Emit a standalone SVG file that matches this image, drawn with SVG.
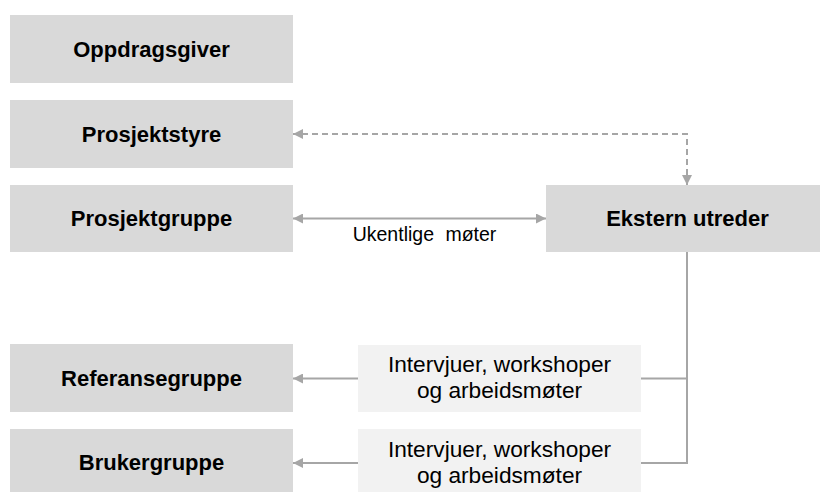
<svg xmlns="http://www.w3.org/2000/svg" width="820" height="492" viewBox="0 0 820 492">
  <style>
    .box { fill: #d9d9d9; }
    .lbl { fill: #f2f2f2; }
    .name { font-family: "Liberation Sans", Arial, sans-serif; font-size: 22px; font-weight: bold; fill: #000; text-anchor: middle; }
    .note { font-family: "Liberation Sans", Arial, sans-serif; font-size: 22.7px; fill: #000; text-anchor: middle; }
    .small { font-family: "Liberation Sans", Arial, sans-serif; font-size: 19.5px; fill: #000; text-anchor: middle; word-spacing: 6px; }
    .wire { fill: none; stroke: #a6a6a6; stroke-width: 2; }
    .dash { stroke-dasharray: 6 4; }
  </style>
  <defs>
    <marker id="arr" viewBox="0 0 10 10" refX="10" refY="5" markerWidth="10" markerHeight="10" markerUnits="userSpaceOnUse" orient="auto-start-reverse">
      <path d="M0,0 L10,5 L0,10 z" fill="#a6a6a6"/>
    </marker>
  </defs>

  <rect width="820" height="492" fill="#ffffff"/>

  <g id="oppdragsgiver">
    <rect class="box" x="10" y="15" width="283" height="68"/>
    <text class="name" x="151.5" y="57">Oppdragsgiver</text>
  </g>
  <g id="prosjektstyre">
    <rect class="box" x="10" y="100" width="283" height="68"/>
    <text class="name" x="151.5" y="142">Prosjektstyre</text>
  </g>
  <g id="prosjektgruppe">
    <rect class="box" x="10" y="185" width="283" height="67"/>
    <text class="name" x="151.5" y="226">Prosjektgruppe</text>
  </g>
  <g id="referansegruppe">
    <rect class="box" x="10" y="344" width="283" height="68"/>
    <text class="name" x="151.5" y="386">Referansegruppe</text>
  </g>
  <g id="brukergruppe">
    <rect class="box" x="10" y="429" width="283" height="68"/>
    <text class="name" x="151.5" y="470">Brukergruppe</text>
  </g>
  <g id="ekstern-utreder">
    <rect class="box" x="546" y="185" width="283" height="67"/>
    <text class="name" x="687.5" y="226">Ekstern utreder</text>
  </g>

  <g id="connectors">
    <!-- styre <-> utreder (dashed) -->
    <path class="wire dash" d="M687,185 V134 H293" marker-start="url(#arr)" marker-end="url(#arr)"/>
    <!-- prosjektgruppe <-> utreder -->
    <path class="wire" d="M293,218.5 H546" marker-start="url(#arr)" marker-end="url(#arr)"/>
    <text class="small" x="424.5" y="241">Ukentlige møter</text>
    <!-- utreder down to the two groups -->
    <path class="wire" d="M687,252 V463 H641"/>
    <path class="wire" d="M687,378.5 H641"/>
    <path class="wire" d="M358,378.5 H293" marker-end="url(#arr)"/>
    <path class="wire" d="M358,463 H293" marker-end="url(#arr)"/>
  </g>

  <g id="label-referanse">
    <rect class="lbl" x="358" y="345" width="283" height="67"/>
    <text class="note" x="499.5" y="372">Intervjuer, workshoper</text>
    <text class="note" x="499.5" y="398">og arbeidsmøter</text>
  </g>
  <g id="label-bruker">
    <rect class="lbl" x="358" y="429" width="283" height="68"/>
    <text class="note" x="499.5" y="457">Intervjuer, workshoper</text>
    <text class="note" x="499.5" y="483">og arbeidsmøter</text>
  </g>
</svg>
